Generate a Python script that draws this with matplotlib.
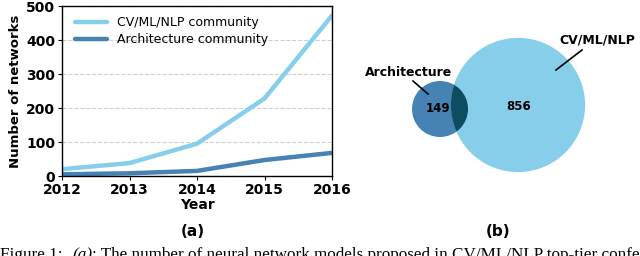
import numpy as np
import matplotlib
matplotlib.use('Agg')
import matplotlib.pyplot as plt
import matplotlib.patches as patches

# data
years = [2012, 2013, 2014, 2015, 2016]
cv_counts = [20, 38, 95, 228, 472]
arch_counts = [5, 8, 15, 47, 68]
venn_labels = ['Architecture', 'CV/ML/NLP']
venn_sizes = [149, 856]

light = '#87CEEB'
dark = '#4682B4'
overlap = '#0E4C62'

fig = plt.figure(figsize=(6.4, 2.56), dpi=100)

# (a) line chart
ax = fig.add_axes([62 / 640, 1 - 176 / 256, 270 / 640, 170 / 256])
ax.plot(years, cv_counts, color=light, lw=3.2, label='CV/ML/NLP community', solid_capstyle='round')
ax.plot(years, arch_counts, color=dark, lw=3.2, label='Architecture community', solid_capstyle='round')
ax.set_xlim(2012, 2016)
ax.set_ylim(0, 500)
ax.set_xticks(years)
ax.set_yticks(range(0, 501, 100))
ax.yaxis.grid(True, linestyle='--', color='#CFCFCF', lw=0.8)
ax.set_axisbelow(True)
for lbl in ax.get_xticklabels() + ax.get_yticklabels():
    lbl.set_fontweight('bold')
    lbl.set_fontsize(10)
ax.tick_params(length=3, width=0.8, pad=2)
ax.set_xlabel('Year', fontsize=10, fontweight='bold', labelpad=1)
ax.set_ylabel('Number of networks', fontsize=9.5, fontweight='bold', labelpad=3)
ax.legend(loc='upper left', frameon=False, fontsize=9, handlelength=2.6,
          borderaxespad=0.4, labelspacing=0.35, bbox_to_anchor=(0.01, 1.0))
for s in ax.spines.values():
    s.set_linewidth(1.0)

# (b) venn diagram, pixel-like coordinates
vx = fig.add_axes([0.5, 0, 0.5, 1])
vx.set_xlim(320, 640)
vx.set_ylim(256, 0)
vx.axis('off')

k = 28 / np.sqrt(venn_sizes[0])
r_arch = k * np.sqrt(venn_sizes[0])
r_cv = k * np.sqrt(venn_sizes[1])
c_arch = (440, 109)
c_cv = (518, 105)

arch = patches.Circle(c_arch, r_arch, facecolor=dark, edgecolor='none')
cv = patches.Circle(c_cv, r_cv, facecolor=light, edgecolor='none')
vx.add_patch(arch)
vx.add_patch(cv)
inter = patches.Circle(c_cv, r_cv, facecolor=overlap, edgecolor='none')
vx.add_patch(inter)
inter.set_clip_path(arch)

vx.text(438, 109, str(venn_sizes[0]), fontsize=8.5, fontweight='bold', ha='center', va='center')
vx.text(519, 106, str(venn_sizes[1]), fontsize=8.5, fontweight='bold', ha='center', va='center')
vx.text(409, 73, venn_labels[0], fontsize=9, fontweight='bold', ha='center', va='center')
vx.plot([413, 428], [81, 94], color='black', lw=1.2)
vx.text(597, 40, venn_labels[1], fontsize=9, fontweight='bold', ha='center', va='center')
vx.plot([582, 556], [50, 70], color='black', lw=1.2)

# panel labels
fig.text(193 / 640, 1 - 231 / 256, '(a)', fontsize=11, fontweight='bold', ha='center', va='center')
fig.text(498 / 640, 1 - 231 / 256, '(b)', fontsize=11, fontweight='bold', ha='center', va='center')

# caption (cut off at figure edge)
cap_y = 1 - 259 / 256
fig.text(0.0, cap_y, 'Figure 1: ', fontsize=12.3, family='Liberation Serif', va='baseline', ha='left')
fig.text(72 / 640, cap_y, '(a)', fontsize=12.3, family='Liberation Serif', style='italic', va='baseline', ha='left')
fig.text(92 / 640, cap_y, ': The number of neural network models proposed in CV/ML/NLP top-tier confer',
         fontsize=12.3, family='Liberation Serif', va='baseline', ha='left')

fig.savefig('out.png', dpi=100)
